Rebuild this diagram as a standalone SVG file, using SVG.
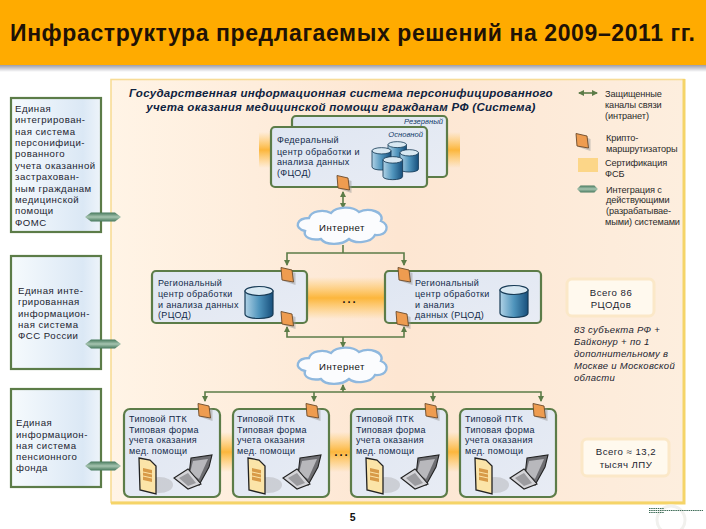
<svg xmlns="http://www.w3.org/2000/svg" width="706" height="529" viewBox="0 0 706 529">
<style>
text{font-family:"Liberation Sans",Arial,sans-serif;fill:#1c2430;font-size:9.6px;letter-spacing:.5px}
.t{fill:#122a4a;font-size:9px;letter-spacing:.32px}
.ti{font-weight:bold;font-style:italic;font-size:11.5px;fill:#0f2340;letter-spacing:.3px;text-anchor:middle}
.sm{font-style:italic;font-size:7.6px;fill:#123a6a;text-anchor:end;letter-spacing:0}
.lg{font-size:9.2px;fill:#2a2a2a;letter-spacing:-.1px}
.it{font-style:italic;font-size:9.5px;letter-spacing:.3px}
.box{fill:url(#bl);stroke:#5c7c48;stroke-width:2.2}
.inner{fill:url(#nb);stroke:#5c7c48;stroke-width:2.2}
.line{fill:none;stroke:#5c7c48;stroke-width:1.6}
.note{fill:#fff9ee;stroke:#fbe8c8;stroke-width:3}
</style>
<defs>
<linearGradient id="hs" x1="0" y1="0" x2="0" y2="1"><stop offset="0" stop-color="#8f8f9c"/><stop offset="1" stop-color="#fff"/></linearGradient>
<linearGradient id="pn" x1="0" y1="0" x2="1" y2="0"><stop offset="0" stop-color="#fff4e6"/><stop offset=".5" stop-color="#fde6d2"/><stop offset="1" stop-color="#fdeede"/></linearGradient>
<linearGradient id="bl" x1="0" y1="0" x2="1" y2="0"><stop offset="0" stop-color="#f6fafd"/><stop offset=".8" stop-color="#dbe8f5"/><stop offset="1" stop-color="#eef4fa"/></linearGradient>
<linearGradient id="nb" x1="0" y1="0" x2="1" y2="1"><stop offset="0" stop-color="#dfe6f2"/><stop offset="1" stop-color="#e8ecf4"/></linearGradient>
<linearGradient id="gl" x1="0" y1="0" x2="0" y2="1"><stop offset="0" stop-color="#ffc24a" stop-opacity="0"/><stop offset=".5" stop-color="#fcb63c"/><stop offset="1" stop-color="#ffc24a" stop-opacity="0"/></linearGradient>
<linearGradient id="cy" x1="0" y1="0" x2="1" y2="0"><stop offset="0" stop-color="#b0d2e6"/><stop offset=".5" stop-color="#4f94bc"/><stop offset="1" stop-color="#174f7c"/></linearGradient>
<linearGradient id="rb" x1="0" y1="0" x2="0" y2="1"><stop offset="0" stop-color="#45785c"/><stop offset=".5" stop-color="#a6c4b0"/><stop offset="1" stop-color="#45785c"/></linearGradient>
<marker id="ah" markerWidth="6" markerHeight="6" refX="5" refY="3" orient="auto-start-reverse" markerUnits="userSpaceOnUse"><path d="M0 0L6 3L0 6Z" fill="#5c7c48"/></marker>
<symbol id="router" overflow="visible"><path d="M-5 -7L7 -3L7 9L-5 5Z" fill="#9a9a9a" opacity=".5" transform="translate(1.500 1)"/><path d="M-6 -7.500L5 -5L6.500 7L-5 5Z" fill="#ee9c50" stroke="#6a4a2a" stroke-width=".9"/></symbol>
<symbol id="cyl" overflow="visible"><path d="M0 4V27C0 33 28 33 28 27V4Z" fill="url(#cy)" stroke="#163a55" stroke-width="1.200"/><ellipse cx="14" cy="4" rx="14" ry="4.500" fill="#d8e8f2" stroke="#163a55" stroke-width="1.200"/></symbol>
<symbol id="cloud" overflow="visible"><path d="M-36 5C-48 2-44-8-32-8C-30-15-18-17-10-13C-4-20 12-20 18-14C28-19 44-14 40-5C50-1 46 10 34 9C30 17 14 18 8 13C0 20-16 19-20 13C-30 15-38 11-36 5Z" fill="#fbfcfe" stroke="#8fb8de" stroke-width="2.400"/></symbol>
<symbol id="doc" overflow="visible"><ellipse cx="20" cy="27" rx="14" ry="8" fill="#b4b4b8" opacity=".5"/><path d="M0 0L11 2L17 8L17 36L1 32Z" fill="#fbe4a8" stroke="#222" stroke-width="1.300"/><path d="M4 10L13 12V24L4 22Z" fill="#d89a48"/><path d="M4 14L13 16M4 18L13 20" stroke="#fbe4a8"/></symbol>
<symbol id="lap" overflow="visible"><path d="M17 3L38 0L35 12L25 30L15 20Z" fill="#6e6e72" stroke="#222" stroke-width="1.100"/><path d="M19 6L34 4L25 24L16 18Z" fill="#b8b8bc"/><path d="M0 23L14 14L27 29L14 34Z" fill="#d4d4d8" stroke="#222" stroke-width="1.100"/><path d="M5 23L14 18L22 28L14 31Z" fill="#9c9ca0"/></symbol>
<g id="rib"><path d="M0 0L6-4.500H30L36 0L30 4.500H6Z" fill="url(#rb)"/></g>
</defs>
<rect width="706" height="529" fill="#fff"/>
<rect y="64" width="706" height="8" fill="url(#hs)"/>
<rect width="706" height="65" fill="#ffab00"/>
<text id="title" x="10" y="41" style="font-size:23px;font-weight:bold;fill:#1f1206;letter-spacing:.6px">Инфраструктура предлагаемых решений на 2009–2011 гг.</text>

<g id="panel"><rect x="111" y="79.500" width="573" height="423" fill="url(#pn)" stroke="#f8dc96" stroke-width="1.600"/><path d="M684 79V503H111" fill="none" stroke="#f5d468" stroke-width="3"/></g>
<text x="341" y="97" class="ti">Государственная информационная система персонифицированного</text>
<text x="341" y="111" class="ti">учета оказания медицинской помощи гражданам РФ (Система)</text>

<g id="glows">
<rect x="259" y="132" width="13" height="36" fill="url(#gl)"/>
<rect x="447" y="132" width="13" height="36" fill="url(#gl)"/>
<rect x="308" y="277" width="78" height="42" fill="url(#gl)"/>
<rect x="220" y="432" width="14" height="40" fill="url(#gl)"/>
<rect x="329" y="432" width="23" height="40" fill="url(#gl)"/>
<rect x="447" y="432" width="14" height="40" fill="url(#gl)"/>
</g>

<g id="connectors">
<path class="line" d="M343 192V208" marker-start="url(#ah)" marker-end="url(#ah)"/>
<path class="line" d="M343 245V253"/>
<path class="line" d="M287 265V253H404V265" marker-start="url(#ah)" marker-end="url(#ah)"/>
<path class="line" d="M287 327V337H404V327" marker-start="url(#ah)" marker-end="url(#ah)"/>
<path class="line" d="M343 337V347" marker-end="url(#ah)"/>
<path class="line" d="M343 392V385" marker-end="url(#ah)"/>
<path class="line" d="M205 401V392H541V401" marker-start="url(#ah)" marker-end="url(#ah)"/>
<path class="line" d="M314 392V401" marker-end="url(#ah)"/>
<path class="line" d="M433 392V401" marker-end="url(#ah)"/>
</g>

<g id="system-foms"><rect class="box" x="11" y="98" width="90" height="134"/>
<text x="15" y="112">Единая</text><text x="15" y="123">интегрирован-</text><text x="15" y="135">ная система</text><text x="15" y="146">персонифици-</text><text x="15" y="157">рованного</text><text x="15" y="169">учета оказанной</text><text x="15" y="180">застрахован-</text><text x="15" y="192">ным гражданам</text><text x="15" y="203">медицинской</text><text x="15" y="214">помощи</text><text x="15" y="226">ФОМС</text></g>
<g id="system-fss"><rect class="box" x="11" y="256" width="90" height="113"/>
<text x="18" y="294">Единая инте-</text><text x="18" y="305">грированная</text><text x="18" y="317">информацион-</text><text x="18" y="328">ная система</text><text x="18" y="339">ФСС России</text></g>
<g id="system-pf"><rect class="box" x="11" y="389" width="90" height="98"/>
<text x="16" y="426">Единая</text><text x="16" y="438">информацион-</text><text x="16" y="449">ная система</text><text x="16" y="460">пенсионного</text><text x="16" y="471">фонда</text></g>
<use href="#rib" x="85" y="217"/><use href="#rib" x="85" y="344"/><use href="#rib" x="85" y="466"/>

<g id="fcod-reserve"><rect class="inner" x="292" y="116" width="155" height="61" rx="4"/><text x="443" y="123.500" class="sm">Резервный</text></g>
<g id="fcod"><rect class="inner" x="271" y="127" width="156" height="60" rx="4"/><text x="423" y="136.500" class="sm">Основной</text>
<text class="t" x="277" y="143">Федеральный</text><text class="t" x="277" y="154.500">центр обработки и</text><text class="t" x="277" y="165">анализа данных</text><text class="t" x="277" y="176">(ФЦОД)</text>
<g transform="translate(388 142) scale(.66 .66)"><use href="#cyl"/></g>
<g transform="translate(372 148) scale(.68 .7)"><use href="#cyl"/></g>
<g transform="translate(400 150) scale(.66 .7)"><use href="#cyl"/></g>
<g transform="translate(383 157) scale(.7 .72)"><use href="#cyl"/></g>
<use href="#router" x="343" y="183"/></g>

<g id="rcod-left"><rect class="inner" x="152" y="271" width="155" height="52" rx="4"/>
<text class="t" x="158" y="286">Региональный</text><text class="t" x="158" y="297">центр обработки</text><text class="t" x="158" y="307.500">и анализа данных</text><text class="t" x="158" y="318">(РЦОД)</text>
<use href="#cyl" x="245" y="287"/><use href="#router" x="287" y="275"/><use href="#router" x="287" y="319"/></g>
<g id="rcod-right"><rect class="inner" x="385" y="271" width="156" height="52" rx="4"/>
<text class="t" x="415" y="286">Региональный</text><text class="t" x="415" y="297">центр обработки</text><text class="t" x="415" y="307.500">и анализ</text><text class="t" x="415" y="318">данных (РЦОД)</text>
<use href="#cyl" x="500" y="286"/><use href="#router" x="404" y="275"/><use href="#router" x="402" y="319"/></g>
<text x="349" y="303" style="font-size:16px;fill:#111;text-anchor:middle;letter-spacing:0">…</text>

<g id="cloud-1"><use href="#cloud" x="341" y="226"/><text x="342" y="231" text-anchor="middle" style="fill:#111">Интернет</text></g>
<g id="cloud-2"><use href="#cloud" x="341" y="366"/><text x="342" y="369.500" text-anchor="middle" style="fill:#111">Интернет</text></g>

<g id="ptk-1"><rect class="inner" x="124" y="409" width="96" height="88" rx="6"/><text class="t" x="129" y="422">Типовой ПТК</text><text class="t" x="129" y="433">Типовая форма</text><text class="t" x="129" y="443">учета оказания</text><text class="t" x="129" y="454">мед. помощи</text><use href="#doc" x="139" y="458"/><use href="#lap" x="174" y="455"/><use href="#router" x="204" y="411"/></g>
<g id="ptk-2"><rect class="inner" x="233" y="409" width="96" height="88" rx="6"/><text class="t" x="237" y="422">Типовой ПТК</text><text class="t" x="237" y="433">Типовая форма</text><text class="t" x="237" y="443">учета оказания</text><text class="t" x="237" y="454">мед. помощи</text><use href="#doc" x="248" y="458"/><use href="#lap" x="283" y="455"/><use href="#router" x="312" y="411"/></g>
<g id="ptk-3"><rect class="inner" x="351" y="409" width="96" height="88" rx="6"/><text class="t" x="356" y="422">Типовой ПТК</text><text class="t" x="356" y="433">Типовая форма</text><text class="t" x="356" y="443">учета оказания</text><text class="t" x="356" y="454">мед. помощи</text><use href="#doc" x="366" y="458"/><use href="#lap" x="401" y="455"/><use href="#router" x="431" y="411"/></g>
<g id="ptk-4"><rect class="inner" x="460" y="409" width="96" height="88" rx="6"/><text class="t" x="465" y="422">Типовой ПТК</text><text class="t" x="465" y="433">Типовая форма</text><text class="t" x="465" y="443">учета оказания</text><text class="t" x="465" y="454">мед. помощи</text><use href="#doc" x="475" y="458"/><use href="#lap" x="510" y="455"/><use href="#router" x="539" y="411"/></g>
<text x="341" y="456" style="font-size:16px;fill:#111;text-anchor:middle;letter-spacing:0">…</text>

<g id="legend">
<path class="line" d="M579 93H597" marker-start="url(#ah)" marker-end="url(#ah)"/>
<text class="lg" x="605" y="97">Защищенные</text><text class="lg" x="605" y="108">каналы связи</text><text class="lg" x="605" y="119">(интранет)</text>
<use href="#router" x="582" y="141"/>
<text class="lg" x="606" y="141">Крипто-</text><text class="lg" x="606" y="152">маршрутизаторы</text>
<rect x="578" y="158" width="20" height="14" fill="#fcd688"/>
<text class="lg" x="605" y="166">Сертификация</text><text class="lg" x="605" y="177">ФСБ</text>
<g transform="translate(577 189) scale(.58 .8)"><use href="#rib"/></g>
<text class="lg" x="606" y="193">Интеграция с</text><text class="lg" x="606" y="203">действующими</text><text class="lg" x="606" y="214">(разрабатывае-</text><text class="lg" x="605" y="225">мыми) системами</text>
</g>

<g id="note-rcod"><rect class="note" x="567" y="279" width="87" height="37" rx="5"/><text x="611" y="296" text-anchor="middle">Всего 86</text><text x="611" y="308" text-anchor="middle">РЦОДов</text></g>
<text class="it" x="574" y="333">83 субъекта РФ +</text><text class="it" x="574" y="345">Байконур + по 1</text><text class="it" x="574" y="357">дополнительному в</text><text class="it" x="574" y="369">Москве и Московской</text><text class="it" x="574" y="381">области</text>
<g id="note-lpu"><rect class="note" x="582" y="439" width="87" height="37" rx="5"/><text x="626" y="455" text-anchor="middle">Всего ≈ 13,2</text><text x="626" y="468" text-anchor="middle">тысяч ЛПУ</text></g>

<text x="353" y="521" style="font-size:10.500px;font-weight:bold;fill:#111;text-anchor:middle">5</text>
<g id="logo"><circle cx="671" cy="520" r="14" fill="none" stroke="#f1f1ee" stroke-width="3"/><path d="M649 508.500H664M649 510.500H703M649 512.500H664" stroke="#3c6a55" stroke-width="1" stroke-dasharray="1.500 .7"/></g>
</svg>
